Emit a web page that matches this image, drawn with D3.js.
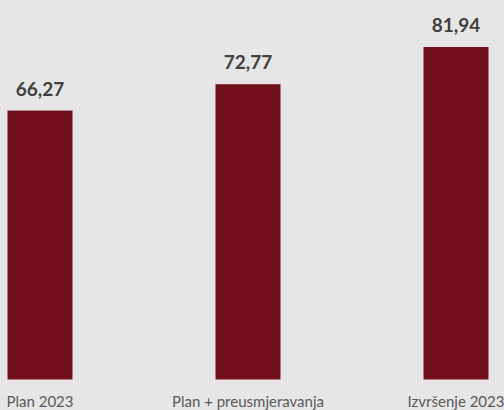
<!DOCTYPE html>
<html><head><meta charset="utf-8">
<script src="https://cdn.jsdelivr.net/npm/d3@7"></script>
<style>
html,body{margin:0;padding:0;background:#e7e6e6;}
svg{display:block;}
</style></head>
<body>
<script>
const categories = ["Plan 2023", "Plan + preusmjeravanja", "Izvršenje 2023"];
const values = [66.27, 72.77, 81.94];
const valueLabels = ["66,27", "72,77", "81,94"];

const W = 504, H = 410;
const svg = d3.select("body").append("svg").attr("width", W).attr("height", H);
svg.append("rect").attr("width", W).attr("height", H).attr("fill", "#e7e6e6");

const x = d3.scaleBand().domain(categories).range([-64, 560]).paddingInner(0.6875).paddingOuter(0.34375);
const y = d3.scaleLinear().domain([0, 90]).range([379.5, 379.5 - 4.058 * 90]);

svg.selectAll("rect.bar").data(values).join("rect").attr("class", "bar")
  .attr("x", (d, i) => x(categories[i]))
  .attr("width", x.bandwidth())
  .attr("y", d => y(d))
  .attr("height", d => y(0) - y(d))
  .attr("fill", "#720e1e");

svg.selectAll("text.val").data(values).join("text").attr("class", "val")
  .attr("x", (d, i) => x(categories[i]) + x.bandwidth() / 2)
  .attr("y", d => y(d) - 15)
  .attr("text-anchor", "middle")
  .attr("font-family", "Lato, sans-serif")
  .attr("font-weight", "bold")
  .attr("font-size", 19)
  .attr("fill", "#404040")
  .text((d, i) => valueLabels[i]);

const xAxis = d3.axisBottom(x).tickSize(0).tickPadding(0);
const g = svg.append("g").attr("transform", `translate(0,${y(0)})`).call(xAxis);
g.select(".domain").remove();
g.selectAll("text")
  .attr("dy", null)
  .attr("y", 27.5)
  .attr("font-family", "Lato, sans-serif")
  .attr("font-size", 15)
  .attr("fill", "#595959");
</script>
</body></html>
